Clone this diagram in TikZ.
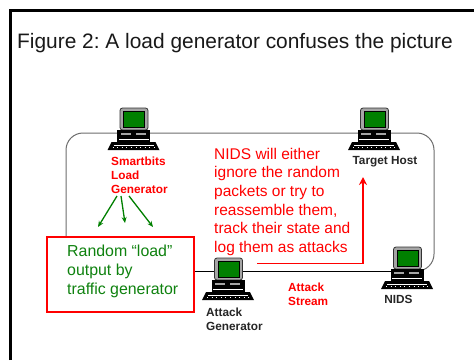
\documentclass[tikz,border=0pt]{standalone}
\usepackage{fontspec}
\setmainfont{Liberation Sans}
\usetikzlibrary{arrows.meta}
\definecolor{netgray}{RGB}{110,110,110}
\definecolor{screengreen}{RGB}{0,128,0}
\definecolor{txtgreen}{RGB}{15,130,15}
\definecolor{monitorgray}{RGB}{165,165,165}
\tikzset{
  x=1pt,y=-1pt,
  pcnode/.style={minimum width=52pt,minimum height=42pt,inner sep=0pt,outer sep=0pt},
  lbl/.style={font=\bfseries\fontsize{11.8}{14.3}\selectfont,align=left,inner sep=0pt,anchor=north west},
  redlbl/.style={lbl,text=red},
  blklbl/.style={lbl,text=black!85},
  net/.style={draw=netgray,line width=1pt,rounded corners=17pt},
  wire/.style={draw=black,line width=0.9pt},
  loadarrow/.style={draw=screengreen,line width=1.3pt,-{Stealth[length=6pt,width=5pt]}},
  attackarrow/.style={draw=red,line width=1.8pt,-{Stealth[length=8pt,width=8pt]}},
  pics/computer/.style={code={
    \filldraw[fill=monitorgray,draw=black!80,line width=0.8pt,rounded corners=2.5pt] (-13.5,-21) rectangle (14.5,1);
    \fill[black] (-10.5,-18) rectangle (11.5,-1.5);
    \fill[screengreen] (-9.5,-17) rectangle (10.5,-2.5);
    \fill[black] (-16.5,1) rectangle (16.5,13);
    \fill[monitorgray] (-13,4) rectangle (-3,6);
    \fill[monitorgray] (2,4) rectangle (12,6);
    \fill[white] (-15,9.5) rectangle (15,10.5);
    \fill[black] (-22,13) -- (22,13) -- (26,21) -- (-26,21) -- cycle;
    \draw[white,line width=0.4pt] (-20,16) -- (20,16);
    \draw[white,line width=0.4pt,dash pattern=on 0.6pt off 4pt] (-21,18.5) -- (21,18.5);
  }},
}
\frenchspacing
\begin{document}
\begin{tikzpicture}
\useasboundingbox (0,0) rectangle (474,360);
\fill[white] (0,0) rectangle (474,360);
% frame
\draw[black,line width=2.4pt] (10.5,360) -- (10.5,10.5) -- (474,10.5);
\node[inner sep=0pt,anchor=base west,font=\fontsize{20.9}{24}\selectfont,text=black!90] (title) at (17,48) {Figure 2: A load generator confuses the picture};
% anchors of computers
\node[pcnode] (smart) at (133.5,129) {};
\node[pcnode] (target) at (374,129) {};
\node[pcnode] (nids) at (407,268) {};
\node[pcnode] (attack) at (228,279) {};
\coordinate (corTL) at (66,133);
\coordinate (corTR) at (434,133);
\coordinate (corBR) at (434,271);
\coordinate (netEnd) at (66,240);
\coordinate (nidsJoin) at (420,271);
% network
\draw[net] (netEnd) -- (corTL) -- (corTR) -- (corBR) -- (nidsJoin);
% load box
\node[draw=red,line width=2pt,fill=white,minimum width=147pt,minimum height=75pt,inner sep=0pt,anchor=north west] (loadbox) at (46,236) {};
\node[inner sep=0pt,anchor=north west,align=left,text=txtgreen,font=\fontsize{15.9}{19}\selectfont] (loadtxt) at (67,244.4) {Random “load”\\output by\\traffic generator};
\draw[wire] (loadbox.east |- nidsJoin) -- (nidsJoin);
% computers
\foreach \n in {smart,target,nids,attack}{ \path (\n.center) pic {computer}; }
% labels
\node[redlbl] (smartlbl) at (111,156.4) {Smartbits\\Load\\Generator};
\node[blklbl,anchor=north] (targetlbl) at (385,156.4) {Target Host};
\node[blklbl,anchor=north] (nidslbl) at (398.5,295.5) {NIDS};
\node[blklbl] (attacklbl) at (206,307.4) {Attack\\Generator};
\node[redlbl] (streamlbl) at (288,282.4) {Attack\\Stream};
\node[inner sep=0pt,anchor=north west,align=left,text=red,font=\fontsize{15.5}{18.6}\selectfont] (nidstxt) at (214,147.8) {NIDS will either\\ignore the random\\packets or try to\\reassemble them,\\track their state and\\log them as attacks};
% arrows
\coordinate (g1) at (117,196);
\coordinate (g2) at (121,196);
\coordinate (g3) at (129,196);
\coordinate (h1) at (98,227);
\coordinate (h2) at (125,223);
\coordinate (h3) at (153,227);
\draw[loadarrow] (g1) -- (h1);
\draw[loadarrow] (g2) -- (h2);
\draw[loadarrow] (g3) -- (h3);
\coordinate (as) at (257,263.5);
\coordinate (ac) at (363,263.5);
\coordinate (ae) at (363,177);
\draw[attackarrow] (as) -- (ac) -- (ae);
\end{tikzpicture}
\end{document}
